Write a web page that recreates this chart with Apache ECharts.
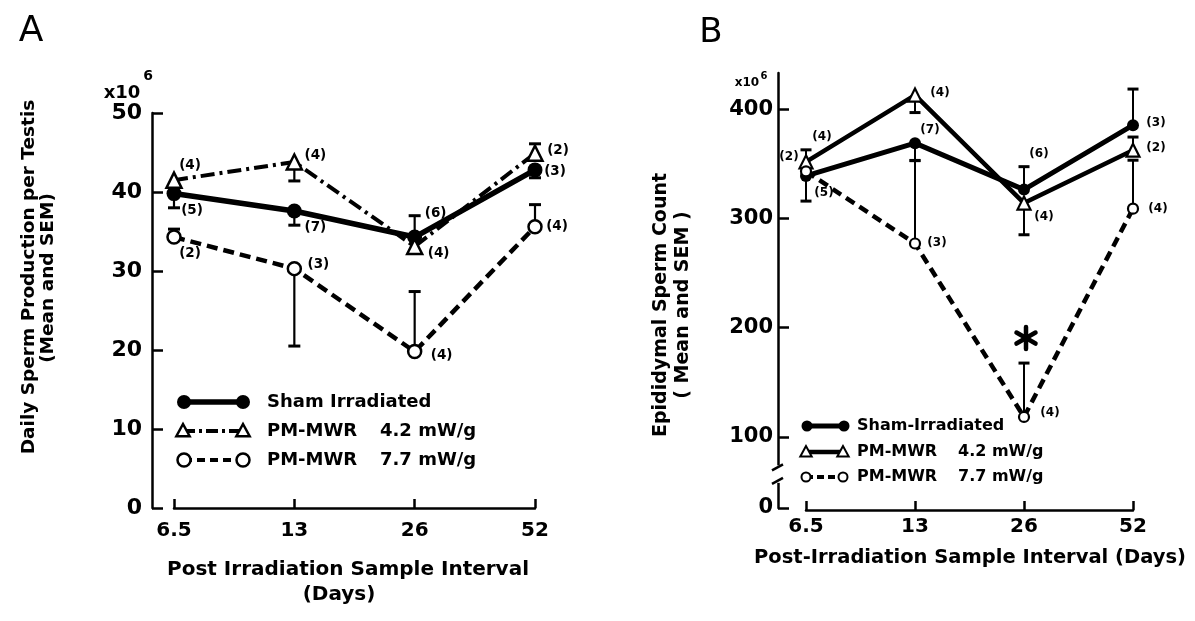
<!DOCTYPE html>
<html>
<head>
<meta charset="utf-8">
<script src="https://cdn.jsdelivr.net/npm/echarts@6/dist/echarts.min.js"></script>
<style>
  html, body { margin: 0; padding: 0; background: #fff; }
  #chart { width: 1195px; height: 621px; }
</style>
</head>
<body>
<div id="chart"></div>
<script>
// ---- data ---------------------------------------------------------------
const days = ['6.5', '13', '26', '52'];
const yTicksA = [0, 10, 20, 30, 40, 50];
const yTicksB = [100, 200, 300, 400];

// A: daily sperm production per testis (x10^6), mean, SEM, side of SEM bar, n
const dspSham = [39.8, 37.6, 34.3, 42.8];
const dspShamSem = [1.8, 1.8, 2.7, 1.0];
const dspShamSide = [-1, -1, 1, -1];
const dspShamN = [5, 7, 6, 3];

const dsp42 = [41.5, 43.8, 33.1, 44.9];
const dsp42Sem = [0.6, 2.4, 0.6, 1.2];
const dsp42Side = [-1, -1, -1, 1];
const dsp42N = [4, 4, 4, 2];

const dsp77 = [34.3, 30.3, 19.8, 35.6];
const dsp77Sem = [1.0, 9.8, 7.6, 2.8];
const dsp77Side = [1, -1, 1, 1];
const dsp77N = [2, 3, 4, 4];

// B: epididymal sperm count (x10^6)
const escSham = [338.8, 368.8, 326.3, 385.3];
const escShamSem = [23, 16, 21, 33];
const escShamSide = [-1, -1, 1, 1];
const escShamN = [5, 7, 6, 3];

const esc42 = [351.7, 412.8, 314.0, 362.4];
const esc42Sem = [11, 16, 29, 12];
const esc42Side = [1, -1, -1, 1];
const esc42N = [4, 4, 4, 2];

const esc77 = [343.0, 277.0, 118.3, 308.9];
const esc77Sem = [0, 76, 49.3, 44.3];
const esc77Side = [1, 1, 1, 1];
const esc77N = [2, 3, 4, 4];
const esc77Significant = [false, false, true, false];

// B axis is broken below 100; its floor carries the "0" label
const bFloor = 35;
const bTop = 433;

// ---- styling --------------------------------------------------------------
const FONT = '"DejaVu Sans", "Liberation Sans", sans-serif';
const INK = '#000';

// where each "(n)" sits relative to its point
const nOffsetA = {
  sham: [[18, 17], [21, 17], [21, -24], [20, 2]],
  tri:  [[16, -15], [21, -6], [24, 7], [23, -3]],
  open: [[16, 16], [24, -4], [27, 4], [22, 0]]
};
const nOffsetB = {
  sham: [[18, 17], [15, -13], [15, -36], [23, -2]],
  tri:  [[16, -25], [25, -2], [20, 14], [23, -2]],
  open: [[-17, -14], [22, -1], [26, -4], [25, 0]]
};

function lineSeries(name, gi, vals, ns, offsets, opt) {
  return {
    type: 'line', name: name,
    xAxisIndex: gi, yAxisIndex: gi, z: 3,
    animation: false, silent: true,
    data: vals.map((v, i) => ({ value: v, label: { offset: offsets[i] } })),
    symbol: opt.symbol, symbolSize: opt.size, showAllSymbol: true,
    itemStyle: {
      color: opt.filled ? INK : '#fff',
      borderColor: INK,
      borderWidth: opt.filled ? 0 : opt.border
    },
    lineStyle: Object.assign({ color: INK }, opt.line),
    label: {
      show: true, position: 'inside',
      formatter: p => '(' + ns[p.dataIndex] + ')',
      color: INK, fontFamily: FONT, fontWeight: 'bold', fontSize: opt.nSize,
      textBorderWidth: 0
    }
  };
}

function errorSeries(gi, mean, sem, side, flags, capW, lw) {
  return {
    type: 'custom', xAxisIndex: gi, yAxisIndex: gi, z: 2,
    animation: false, silent: true,
    data: mean.map((m, i) => [i, m, m + side[i] * sem[i], flags && flags[i] ? 1 : 0]),
    renderItem: function (params, api) {
      const p0 = api.coord([api.value(0), api.value(1)]);
      const p1 = api.coord([api.value(0), api.value(2)]);
      const kids = [];
      if (Math.abs(p1[1] - p0[1]) > 0.5) {
        kids.push({ type: 'line', shape: { x1: p0[0], y1: p0[1], x2: p1[0], y2: p1[1] },
          style: { stroke: INK, lineWidth: lw } });
        kids.push({ type: 'line', shape: { x1: p1[0] - capW / 2, y1: p1[1], x2: p1[0] + capW / 2, y2: p1[1] },
          style: { stroke: INK, lineWidth: 3 } });
      }
      if (api.value(3)) {
        // significance asterisk above the bar
        const cx = p1[0] + 2, cy = p1[1] - 25, r = 11;
        for (let k = 0; k < 3; k++) {
          const a = Math.PI / 2 + k * Math.PI / 3;
          kids.push({ type: 'line',
            shape: { x1: cx - r * Math.cos(a), y1: cy - r * Math.sin(a), x2: cx + r * Math.cos(a), y2: cy + r * Math.sin(a) },
            style: { stroke: INK, lineWidth: 4.5, lineCap: 'round' } });
        }
      }
      return { type: 'group', children: kids };
    }
  };
}

// ---- legend pieces -------------------------------------------------------
function legendMarker(kind, cx, cy, r, lw) {
  if (kind === 'dot') return { type: 'circle', shape: { cx, cy, r }, style: { fill: INK } };
  if (kind === 'ring') return { type: 'circle', shape: { cx, cy, r }, style: { fill: '#fff', stroke: INK, lineWidth: lw } };
  return { type: 'polygon', shape: { points: [[cx, cy - r], [cx - r * 0.95, cy + r * 0.75], [cx + r * 0.95, cy + r * 0.75]] },
    style: { fill: '#fff', stroke: INK, lineWidth: lw } };
}
function legendRow(x1, x2, y, kind, r, lw, line, texts, fontSize) {
  const els = [];
  els.push({ type: 'line', shape: { x1: x1, y1: y, x2: x2, y2: y },
    style: Object.assign({ stroke: INK }, line) });
  els.push(legendMarker(kind, x1, y, r, lw));
  els.push(legendMarker(kind, x2, y, r, lw));
  texts.forEach(t => els.push({ type: 'text', x: t[0], y: y,
    style: { text: t[1], fill: INK, font: 'bold ' + fontSize + 'px ' + FONT, textVerticalAlign: 'middle' } }));
  return els;
}
function label(text, x, y, size, opts) {
  return Object.assign({ type: 'text', x: x, y: y,
    style: { text: text, fill: INK, font: (opts && opts.weight || 'bold') + ' ' + size + 'px ' + FONT,
      textAlign: 'center', textVerticalAlign: 'middle' } }, opts && opts.rot ? { rotation: opts.rot } : {});
}

const graphics = [].concat(
  // panel letters
  label('A', 31, 32, 36, { weight: 'normal' }),
  label('B', 711, 33, 34, { weight: 'normal' }),
  // axis titles A
  label('Daily Sperm Production per Testis', 29, 277, 18.5, { rot: Math.PI / 2 }),
  label('(Mean and SEM)', 48, 278, 18.5, { rot: Math.PI / 2 }),
  label('Post Irradiation Sample Interval', 348, 570, 20),
  label('(Days)', 339, 595, 20),
  label('x10', 122, 93, 18),
  label('6', 148, 76, 14),
  // axis titles B
  label('Epididymal Sperm Count', 661, 305, 19, { rot: Math.PI / 2 }),
  label('( Mean and SEM )', 683, 305, 19, { rot: Math.PI / 2 }),
  label('Post-Irradiation Sample Interval (Days)', 970, 558, 19.5),
  label('x10', 747, 83, 12),
  label('6', 764, 76, 10),
  // legend A
  legendRow(184, 243, 402, 'dot', 7, 0, { lineWidth: 5.5 }, [[267, 'Sham Irradiated']], 18),
  legendRow(183, 243, 431, 'tri', 7, 2.5, { lineWidth: 4, lineDash: [12, 4, 3, 4] }, [[267, 'PM-MWR'], [380, '4.2 mW/g']], 18),
  legendRow(184, 243, 460, 'ring', 6.5, 2.5, { lineWidth: 4, lineDash: [8, 5] }, [[267, 'PM-MWR'], [380, '7.7 mW/g']], 18),
  // legend B
  legendRow(807, 844, 426, 'dot', 5.5, 0, { lineWidth: 5 }, [[857, 'Sham-Irradiated']], 16),
  legendRow(806, 843, 452, 'tri', 6, 2, { lineWidth: 4.5 }, [[857, 'PM-MWR'], [958, '4.2 mW/g']], 16),
  legendRow(806, 843, 477, 'ring', 4.5, 2, { lineWidth: 4, lineDash: [7, 4] }, [[857, 'PM-MWR'], [958, '7.7 mW/g']], 16)
);

const axisLine = { show: true, lineStyle: { color: INK, width: 2.5 } };

const option = {
  backgroundColor: '#fff',
  animation: false,
  grid: [
    { left: 174, right: 660, top: 113, bottom: 113 },
    { left: 806, right: 62, top: 73, bottom: 113 }
  ],
  xAxis: [0, 1].map(gi => ({
    type: 'category', gridIndex: gi, data: days, boundaryGap: false, offset: 2,
    axisLine: axisLine,
    axisTick: { show: true, inside: true, length: 9, lineStyle: { color: INK, width: 2.5 } },
    axisLabel: { color: INK, fontFamily: FONT, fontWeight: 'bold', fontSize: 20, margin: gi ? 7 : 11 },
    splitLine: { show: false }
  })),
  yAxis: [
    {
      type: 'value', gridIndex: 0, min: 0, max: 50, offset: 22,
      axisLine: axisLine,
      axisTick: { show: true, inside: true, length: 11, customValues: yTicksA, lineStyle: { color: INK, width: 2.5 } },
      axisLabel: { customValues: yTicksA, color: INK, fontFamily: FONT, fontWeight: 'bold', fontSize: 22, margin: 10 },
      splitLine: { show: false }
    },
    {
      type: 'value', gridIndex: 1, min: bFloor, max: bTop, offset: 28,
      axisLine: axisLine,
      axisTick: { show: true, inside: true, length: 11, customValues: [bFloor].concat(yTicksB), lineStyle: { color: INK, width: 2.5 } },
      axisLabel: { customValues: [bFloor].concat(yTicksB), formatter: v => (v === bFloor ? '0' : String(v)),
        color: INK, fontFamily: FONT, fontWeight: 'bold', fontSize: 21, margin: 5 },
      splitLine: { show: false }
    }
  ],
  series: [
    lineSeries('Sham Irradiated', 0, dspSham, dspShamN, nOffsetA.sham,
      { symbol: 'circle', size: 15, filled: true, line: { width: 5.5 }, nSize: 13.5 }),
    lineSeries('PM-MWR 4.2 mW/g', 0, dsp42, dsp42N, nOffsetA.tri,
      { symbol: 'triangle', size: 15, filled: false, border: 2.5, line: { width: 4, type: [14, 5, 3, 5] }, nSize: 13.5 }),
    lineSeries('PM-MWR 7.7 mW/g', 0, dsp77, dsp77N, nOffsetA.open,
      { symbol: 'circle', size: 13, filled: false, border: 2.5, line: { width: 4.5, type: [11, 6] }, nSize: 13.5 }),
    errorSeries(0, dspSham, dspShamSem, dspShamSide, null, 12, 2.2),
    errorSeries(0, dsp42, dsp42Sem, dsp42Side, null, 12, 2.2),
    errorSeries(0, dsp77, dsp77Sem, dsp77Side, null, 12, 2.2),

    lineSeries('Sham-Irradiated', 1, escSham, escShamN, nOffsetB.sham,
      { symbol: 'circle', size: 12, filled: true, line: { width: 5 }, nSize: 12 }),
    lineSeries('PM-MWR 4.2 mW/g', 1, esc42, esc42N, nOffsetB.tri,
      { symbol: 'triangle', size: 13, filled: false, border: 2.2, line: { width: 4.5 }, nSize: 12 }),
    lineSeries('PM-MWR 7.7 mW/g', 1, esc77, esc77N, nOffsetB.open,
      { symbol: 'circle', size: 10, filled: false, border: 2.2, line: { width: 4.5, type: [10, 6] }, nSize: 12 }),
    errorSeries(1, escSham, escShamSem, escShamSide, null, 11, 2),
    errorSeries(1, esc42, esc42Sem, esc42Side, null, 11, 2),
    errorSeries(1, esc77, esc77Sem, esc77Side, esc77Significant, 11, 2)
  ],
  graphic: graphics
};

const chart = echarts.init(document.getElementById('chart'), null, { renderer: 'canvas' });
chart.setOption(option);

// axis break marks on panel B between the floor and 100
const bx = chart.convertToPixel({ gridIndex: 1 }, [0, 100])[0] - 28;
const yHi = chart.convertToPixel({ gridIndex: 1 }, [0, 74])[1];
const yLo = chart.convertToPixel({ gridIndex: 1 }, [0, 58])[1];
chart.setOption({
  graphic: graphics.concat([
    { type: 'rect', z: 100, shape: { x: bx - 4, y: yHi, width: 8, height: yLo - yHi }, style: { fill: '#fff' } },
    { type: 'line', z: 101, shape: { x1: bx - 6, y1: yHi + 5, x2: bx + 5, y2: yHi - 1 }, style: { stroke: INK, lineWidth: 2.5 } },
    { type: 'line', z: 101, shape: { x1: bx - 6, y1: yLo + 1, x2: bx + 5, y2: yLo - 5 }, style: { stroke: INK, lineWidth: 2.5 } }
  ])
}, { replaceMerge: ['graphic'] });
</script>
</body>
</html>
